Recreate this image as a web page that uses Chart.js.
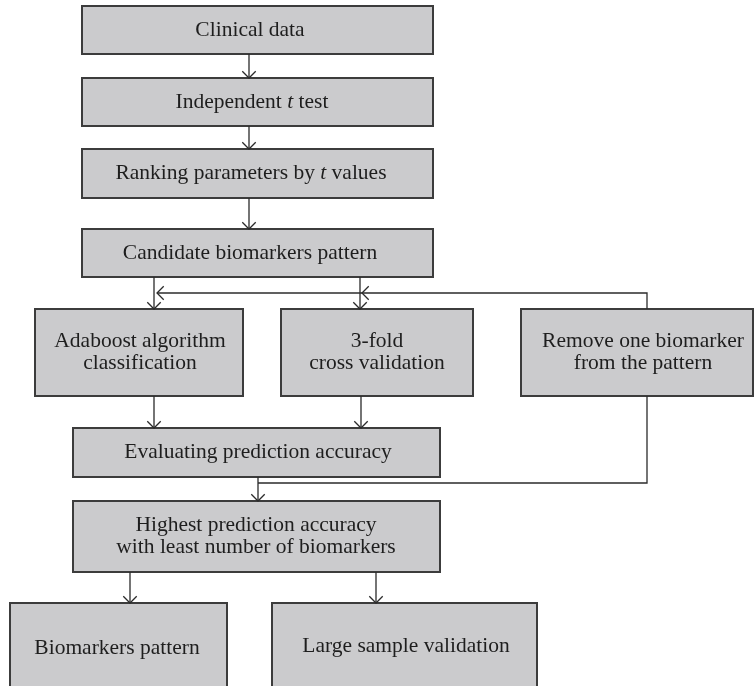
<!DOCTYPE html>
<html>
<head>
<meta charset="utf-8">
<script src="https://cdn.jsdelivr.net/npm/chart.js@4.4.1/dist/chart.umd.min.js"></script>
<style>
  html, body { margin: 0; padding: 0; background: #fff; }
  canvas { display: block; }
</style>
</head>
<body>
<canvas id="chart" width="754" height="686"></canvas>
<script>
// flowchart nodes (chart units = pixels of the 754x686 frame, y grows downward)
// *t* marks italic text
const boxLabels = [
  ['Clinical data'],
  ['Independent *t* test'],
  ['Ranking parameters by *t* values'],
  ['Candidate biomarkers pattern'],
  ['Adaboost algorithm', 'classification'],
  ['3-fold', 'cross validation'],
  ['Remove one biomarker', 'from the pattern'],
  ['Evaluating prediction accuracy'],
  ['Highest prediction accuracy', 'with least number of biomarkers'],
  ['Biomarkers pattern'],
  ['Large sample validation']
];
const boxLeft   = [82, 82, 82, 82, 35, 281, 521, 73, 73, 10, 272];
const boxRight  = [433, 433, 433, 433, 243, 473, 753, 440, 440, 227, 537];
const boxTop    = [6, 78, 149, 229, 309, 309, 309, 428, 501, 603, 603];
const boxBottom = [54, 126, 198, 277, 396, 396, 396, 477, 572, 694, 690];
const textX     = [250, 252, 251, 250, 140, 377, 643, 258, 256, 117, 406];

// connectors: list of [x, y] points, arrow = arrowhead at the last point
const connectors = [
  { pts: [[249, 54], [249, 78]], arrow: true },
  { pts: [[249, 126], [249, 149]], arrow: true },
  { pts: [[249, 198], [249, 229]], arrow: true },
  { pts: [[154, 277], [154, 309]], arrow: true },
  { pts: [[360, 277], [360, 309]], arrow: true },
  { pts: [[647, 309], [647, 293], [362, 293]], arrow: true },
  { pts: [[362, 293], [157, 293]], arrow: true },
  { pts: [[154, 396], [154, 428]], arrow: true },
  { pts: [[361, 396], [361, 428]], arrow: true },
  { pts: [[647, 396], [647, 483], [258, 483]], arrow: false },
  { pts: [[258, 477], [258, 501]], arrow: true },
  { pts: [[130, 572], [130, 603]], arrow: true },
  { pts: [[376, 572], [376, 603]], arrow: true }
];

const FONT_SIZE = 21.5;
const FONT_FAMILY = '"Liberation Serif", "DejaVu Serif", serif';
const LINE_GAP = 22;

function drawRichLine(ctx, line, cx, cy) {
  const parts = line.split('*').map(function(s, i) { return { text: s, italic: i % 2 === 1 }; });
  let total = 0;
  parts.forEach(function(p) {
    ctx.font = (p.italic ? 'italic ' : '') + FONT_SIZE + 'px ' + FONT_FAMILY;
    p.w = ctx.measureText(p.text).width;
    total += p.w;
  });
  let x = cx - total / 2;
  parts.forEach(function(p) {
    ctx.font = (p.italic ? 'italic ' : '') + FONT_SIZE + 'px ' + FONT_FAMILY;
    ctx.fillText(p.text, x, cy);
    x += p.w;
  });
}

const boxPlugin = {
  id: 'boxes',
  beforeDatasetsDraw: function(chart) {
    const ctx = chart.ctx;
    const xs = chart.scales.x, ys = chart.scales.y;
    ctx.save();
    boxLabels.forEach(function(lines, i) {
      const x0 = xs.getPixelForValue(boxLeft[i]);
      const x1 = xs.getPixelForValue(boxRight[i]);
      const y0 = ys.getPixelForValue(boxTop[i]);
      const y1 = ys.getPixelForValue(boxBottom[i]);
      ctx.fillStyle = '#cbcbcd';
      ctx.fillRect(x0, y0, x1 - x0, y1 - y0);
      ctx.strokeStyle = '#3c3c3c';
      ctx.lineWidth = 2;
      ctx.strokeRect(x0, y0, x1 - x0, y1 - y0);

      ctx.fillStyle = '#1e1e1e';
      ctx.textBaseline = 'middle';
      ctx.textAlign = 'left';
      const cx = xs.getPixelForValue(textX[i]);
      const cy = (y0 + y1) / 2;
      const start = cy - (lines.length - 1) * LINE_GAP / 2;
      lines.forEach(function(line, k) {
        drawRichLine(ctx, line, cx, start + k * LINE_GAP);
      });
    });
    ctx.restore();
  }
};

const arrowPlugin = {
  id: 'arrowheads',
  afterDatasetsDraw: function(chart) {
    const ctx = chart.ctx;
    const xs = chart.scales.x, ys = chart.scales.y;
    ctx.save();
    ctx.strokeStyle = '#2b2b2b';
    ctx.lineWidth = 1.3;
    connectors.forEach(function(c) {
      if (!c.arrow) return;
      const n = c.pts.length;
      const tx = xs.getPixelForValue(c.pts[n - 1][0]);
      const ty = ys.getPixelForValue(c.pts[n - 1][1]);
      const px = xs.getPixelForValue(c.pts[n - 2][0]);
      const py = ys.getPixelForValue(c.pts[n - 2][1]);
      const ang = Math.atan2(ty - py, tx - px);
      const len = 9.5, spread = Math.PI / 4;
      ctx.beginPath();
      ctx.moveTo(tx - len * Math.cos(ang - spread), ty - len * Math.sin(ang - spread));
      ctx.lineTo(tx, ty);
      ctx.lineTo(tx - len * Math.cos(ang + spread), ty - len * Math.sin(ang + spread));
      ctx.stroke();
    });
    ctx.restore();
  }
};

const ctx = document.getElementById('chart').getContext('2d');
const chart = new Chart(ctx, {
  type: 'scatter',
  data: {
    datasets: connectors.map(function(c) {
      return {
        data: c.pts.map(function(p) { return { x: p[0], y: p[1] }; }),
        showLine: true,
        borderColor: '#2b2b2b',
        borderWidth: 1.3,
        pointRadius: 0,
        fill: false,
        tension: 0
      };
    })
  },
  options: {
    responsive: false,
    animation: false,
    devicePixelRatio: 1,
    events: [],
    layout: { padding: 0 },
    plugins: {
      legend: { display: false },
      tooltip: { enabled: false }
    },
    scales: {
      x: { type: 'linear', min: 0, max: 754, display: false },
      y: { type: 'linear', min: 0, max: 686, reverse: true, display: false }
    }
  },
  plugins: [boxPlugin, arrowPlugin]
});
</script>
</body>
</html>
